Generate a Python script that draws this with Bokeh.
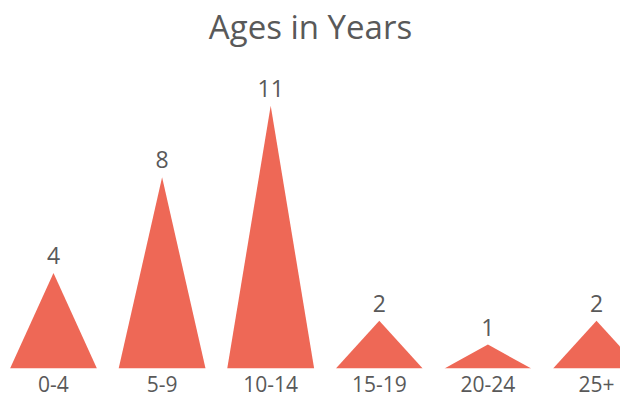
from bokeh.plotting import figure
from bokeh.models import Range1d, FixedTicker, ColumnDataSource, Title
from bokeh.core.properties import value
from bokeh.embed import file_html
from bokeh.resources import INLINE

categories = ["0-4", "5-9", "10-14", "15-19", "20-24", "25+"]
counts = [4, 8, 11, 2, 1, 2]

FONT = "Open Sans"
TXT = "#595959"
RED = "#EE6856"
half = 0.4

xs = [[i - half, i, i + half] for i in range(len(categories))]
ys = [[0, c, 0] for c in counts]

p = figure(width=620, height=401, output_backend="svg", toolbar_location=None,
           x_range=Range1d(-0.488, 5.221), y_range=Range1d(0, 13.35),
           min_border_left=0, min_border_right=0, min_border_top=0, min_border_bottom=33)
p.title = Title(text="Ages in Years", align="center", text_font=FONT,
                text_font_size="33px", text_font_style="normal", text_color=TXT,
                standoff=2)
p.patches(xs, ys, fill_color=RED, line_color=None)

src = ColumnDataSource(dict(x=list(range(len(categories))), y=counts,
                            t=[str(c) for c in counts]))
p.text(x="x", y="y", text="t", source=src, text_align="center", text_baseline="bottom",
       y_offset=-9, text_font=value(FONT), text_font_size="23px", text_color=TXT)

p.xaxis.ticker = FixedTicker(ticks=list(range(len(categories))))
p.xaxis.major_label_overrides = {i: c for i, c in enumerate(categories)}
p.xaxis.axis_line_color = None
p.xaxis.major_tick_line_color = None
p.xaxis.minor_tick_line_color = None
p.xaxis.major_label_text_font = FONT
p.xaxis.major_label_text_font_size = "21px"
p.xaxis.major_label_text_color = TXT
p.xaxis.major_label_standoff = 1
p.yaxis.visible = False
p.xgrid.visible = False
p.ygrid.visible = False
p.outline_line_color = None

open("out.html", "w").write(file_html(p, INLINE))
